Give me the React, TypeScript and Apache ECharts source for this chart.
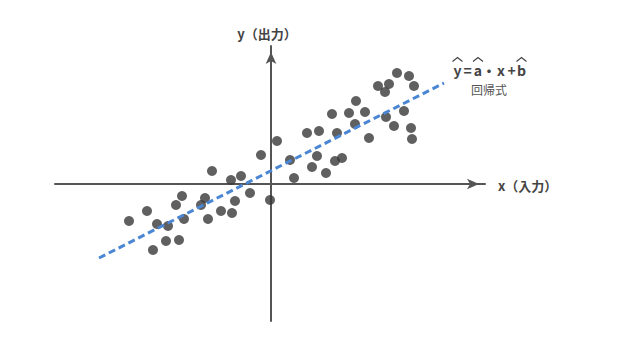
import React, { useEffect, useRef } from 'react';
import * as echarts from 'echarts';

// Scatter sample values (data units; origin at the axes' crossing)
const xValues = [
  -14.2, -12.4, -11.8, -11.4, -10.5, -10.3, -9.5, -9.2, -8.9, -8.7,
  -7.0, -6.6, -6.3, -5.9, -5.0, -4.0, -3.9, -3.6, -3.0, -2.1,
  -1.0, -0.1, 0.6, 1.9, 2.3, 3.6, 4.1, 4.6, 4.8, 5.5,
  6.1, 6.4, 6.6, 7.1, 7.8, 8.4, 8.5, 9.4, 9.8, 10.7,
  11.4, 11.5, 11.8, 12.3, 12.6, 13.3, 13.8, 14.0, 14.1, 14.3,
];
const yValues = [
  -3.7, -2.7, -6.6, -4.0, -5.7, -4.2, -2.1, -5.6, -1.2, -3.5,
  -2.1, -1.4, -3.5, 1.3, -2.7, 0.4, -2.9, -1.7, 0.8, -0.9,
  2.9, -1.6, 4.3, 2.4, 0.6, 5.1, 1.7, 2.8, 5.3, 1.1,
  7.0, 2.3, 5.1, 2.6, 7.1, 6.0, 8.3, 7.2, 4.6, 9.8,
  9.2, 6.7, 10.0, 5.8, 11.1, 7.3, 10.8, 5.6, 4.5, 9.8,
];

// Regression line end points
const regLineX = [-17.2, 17.3];
const regLineY = [-7.4, 10.1];

const xAxisName = 'x（入力）';
const yAxisName = 'y（出力）';
const equationGlyphs = ['y', '=', 'a', '・', 'x', '+', 'b'];
const equationHats = [true, false, true, false, false, false, true];
const equationCaption = '回帰式';

const FONT = '"Noto Sans CJK JP", "Noto Sans", sans-serif';
const TEXT = '#444';

export default function App() {
  const ref = useRef<HTMLDivElement>(null);

  useEffect(() => {
    if (!ref.current) return;
    const chart = echarts.init(ref.current, null, { renderer: 'svg' });

    const scatterData = xValues.map((x, i) => [x, yValues[i]]);
    const lineData = regLineX.map((x, i) => [x, regLineY[i]]);

    const glyphCenters = [457.5, 467.5, 478, 489, 501, 511.5, 521.5];
    const graphics: any[] = [];
    graphics.push({
      type: 'text',
      x: 267,
      y: 33,
      style: {
        text: yAxisName,
        fill: TEXT,
        font: `bold 13px ${FONT}`,
        textAlign: 'center',
        textVerticalAlign: 'middle',
      },
    });
    graphics.push({
      type: 'text',
      x: 498,
      y: 185,
      style: {
        text: xAxisName,
        fill: TEXT,
        font: `bold 13px ${FONT}`,
        textAlign: 'left',
        textVerticalAlign: 'middle',
      },
    });
    equationGlyphs.forEach((g, i) => {
      const cx = glyphCenters[i];
      graphics.push({
        type: 'text',
        x: cx,
        y: 70,
        style: {
          text: g,
          fill: TEXT,
          font: `bold 14px ${FONT}`,
          textAlign: 'center',
          textVerticalAlign: 'middle',
        },
      });
      if (equationHats[i]) {
        graphics.push({
          type: 'polyline',
          shape: { points: [[cx - 5, 61.5], [cx, 57.5], [cx + 5, 61.5]] },
          style: { stroke: TEXT, lineWidth: 1.2, fill: 'none' },
        });
      }
    });
    graphics.push({
      type: 'text',
      x: 489,
      y: 89,
      style: {
        text: equationCaption,
        fill: '#555',
        font: `12px ${FONT}`,
        textAlign: 'center',
        textVerticalAlign: 'middle',
      },
    });

    chart.setOption({
      animation: false,
      backgroundColor: '#fff',
      grid: { left: 55, top: 46, width: 430, height: 275, containLabel: false },
      xAxis: {
        type: 'value',
        min: -21.6,
        max: 21.4,
        axisLine: {
          onZero: true,
          lineStyle: { color: '#555', width: 2 },
          symbol: ['none', 'arrow'],
          symbolSize: [8, 12],
          symbolOffset: [0, -6],
        },
        axisTick: { show: false },
        axisLabel: { show: false },
        splitLine: { show: false },
      },
      yAxis: {
        type: 'value',
        min: -13.7,
        max: 13.8,
        axisLine: {
          onZero: true,
          lineStyle: { color: '#555', width: 2 },
          symbol: ['none', 'arrow'],
          symbolSize: [8, 12],
          symbolOffset: [0, -6],
        },
        axisTick: { show: false },
        axisLabel: { show: false },
        splitLine: { show: false },
      },
      series: [
        {
          type: 'scatter',
          data: scatterData,
          symbolSize: 10,
          itemStyle: { color: '#383838' },
          z: 3,
        },
        {
          type: 'line',
          data: lineData,
          showSymbol: false,
          symbol: 'none',
          lineStyle: { color: '#4a86d4', width: 3, type: [7, 4] },
          z: 4,
        },
      ],
      graphic: graphics,
    });

    return () => chart.dispose();
  }, []);

  return (
    <div
      ref={ref}
      style={{ position: 'absolute', left: 0, top: 0, width: 640, height: 340, background: '#fff' }}
    />
  );
}
